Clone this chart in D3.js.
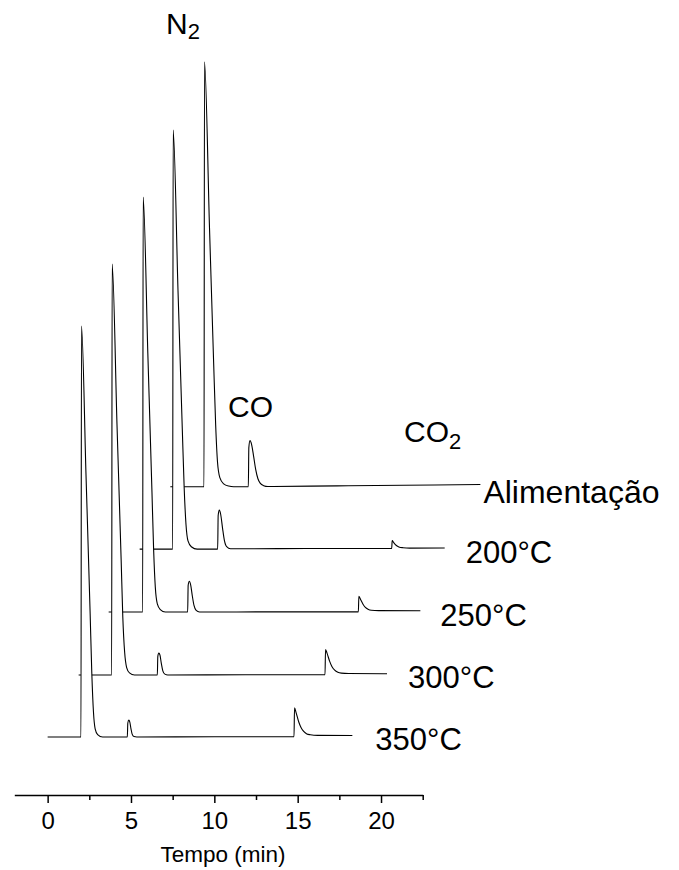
<!DOCTYPE html>
<html>
<head>
<meta charset="utf-8">
<script src="https://cdn.jsdelivr.net/npm/d3@7"></script>
<style>
  body { margin: 0; background: #fff; }
  svg { display: block; font-family: "Liberation Sans", Arial, sans-serif; }
</style>
</head>
<body>
<div id="chart"></div>
<script>
// traces, back to front
const traceNames = ['Alimentação', '200°C', '250°C', '300°C', '350°C'];
const xOffsets = [7.36, 5.52, 3.66, 1.86, 0];      // min
const yOffsets = [60.9, 45.7, 30.4, 15.1, 0];      // signal units

// [time (min), signal]
const alimPts = [
  [0, 0], [2.02, 0], [2.05, 103.4], [2.35, 63], [2.6, 30], [2.72, 15], [2.83, 6], [2.97, 2.2], [3.2, 0.7], [3.5, 0.15], [3.8, 0],
  [4.68, 0], [4.71, 9.5], [4.78, 11.2], [4.88, 10.2], [5.0, 7.3], [5.12, 4.2], [5.25, 2.0], [5.4, 0.8], [5.6, 0.25], [5.85, 0.05],
  [10, 0.2], [14, 0.35], [18.6, 0.55]
];
const t200Pts = [
  [0, 0], [1.98, 0], [2.01, 102], [2.3, 63], [2.56, 29], [2.67, 15], [2.78, 6], [2.9, 2], [3.1, 0.6], [3.45, 0],
  [4.68, 0], [4.71, 8.2], [4.78, 9.5], [4.86, 8.5], [4.97, 5.2], [5.08, 2.2], [5.22, 0.6], [5.45, 0.1],
  [10, 0.15],
  [15.12, 0.2], [15.15, 2.1], [15.24, 1.6], [15.4, 0.9], [15.55, 0.55], [15.8, 0.35], [16.2, 0.25], [18.3, 0.3]
];
const t250Pts = [
  [0, 0], [2.04, 0], [2.07, 101], [2.35, 63], [2.6, 29], [2.7, 15], [2.8, 6], [2.92, 2], [3.1, 0.6], [3.4, 0],
  [4.74, 0], [4.77, 6.5], [4.84, 7.5], [4.92, 6.6], [5.02, 3.9], [5.12, 1.6], [5.25, 0.4], [5.45, 0],
  [10, 0.05],
  [14.98, 0.05], [15.01, 3.85], [15.1, 3.2], [15.26, 1.9], [15.4, 1.15], [15.56, 0.7], [15.76, 0.45], [16.2, 0.35], [18.7, 0.3]
];
const t300Pts = [
  [0, 0], [1.98, 0], [2.01, 100], [2.3, 61], [2.55, 28], [2.65, 14], [2.76, 5.5], [2.88, 1.8], [3.05, 0.5], [3.35, 0],
  [4.72, 0], [4.75, 4.5], [4.81, 5.3], [4.88, 4.8], [4.96, 2.8], [5.05, 1.0], [5.17, 0.2], [5.35, 0],
  [10, 0.05],
  [14.78, 0.05], [14.81, 6.2], [14.9, 5.3], [15.06, 3.3], [15.2, 2.0], [15.36, 1.15], [15.55, 0.65], [15.76, 0.45], [16.2, 0.35], [18.5, 0.3]
];
const t350Pts = [
  [0, 0], [2.0, 0], [2.03, 100], [2.3, 64], [2.55, 30], [2.65, 15.5], [2.75, 6], [2.85, 2], [3.0, 0.6], [3.3, 0],
  [4.78, 0], [4.81, 3.4], [4.87, 4.1], [4.93, 3.6], [5.0, 2.0], [5.07, 0.7], [5.18, 0.1], [5.35, 0],
  [10, 0.05],
  [14.78, 0.05], [14.81, 7.1], [14.9, 6.0], [15.06, 3.7], [15.2, 2.3], [15.36, 1.35], [15.55, 0.75], [15.76, 0.55], [16.2, 0.4], [18.28, 0.35]
];
const traces = [alimPts, t200Pts, t250Pts, t300Pts, t350Pts];

const majorTicks = [0, 5, 10, 15, 20];
const minorTicks = [2.5, 7.5, 12.5, 17.5, 22.5];

const width = 679, height = 870;
const axis_y = 795;

const x = d3.scaleLinear().domain([-2, 22.5]).range([14.3, 422.7]);
const y = d3.scaleLinear().domain([0, 100]).range([737, 326]);

const svg = d3.select('#chart').append('svg')
  .attr('width', width)
  .attr('height', height);

// waterfall: each trace is offset, white-filled so front traces hide the back ones
traces.forEach((pts, i) => {
  const dx = xOffsets[i], dy = yOffsets[i];
  const area = d3.area()
    .x(d => x(d[0] + dx))
    .y0(y(dy))
    .y1(d => y(d[1] + dy))
    .curve(d3.curveMonotoneX);
  const line = d3.line()
    .x(d => x(d[0] + dx))
    .y(d => y(d[1] + dy))
    .curve(d3.curveMonotoneX);

  svg.append('path').datum(pts)
    .attr('d', area)
    .attr('fill', 'white');
  svg.append('path').datum(pts)
    .attr('d', line)
    .attr('fill', 'none')
    .attr('stroke', 'black')
    .attr('stroke-width', 1.1);
});

// x axis
const gx = svg.append('g')
  .attr('transform', `translate(0, ${axis_y})`)
  .call(d3.axisBottom(x).tickValues(majorTicks).tickSize(8).tickSizeOuter(0).tickPadding(9));
gx.select('.domain').attr('stroke-width', 1.5);
gx.selectAll('.tick line').attr('stroke-width', 1.5);
gx.selectAll('.tick text')
  .style('font-size', '24px')
  .style('font-family', '"Liberation Sans", Arial, sans-serif')
  .attr('fill', 'black');

svg.append('g')
  .attr('transform', `translate(0, ${axis_y})`)
  .call(d3.axisBottom(x).tickValues(minorTicks).tickSize(5).tickSizeOuter(0).tickFormat(''))
  .call(g => g.select('.domain').remove())
  .selectAll('.tick line').attr('stroke-width', 1.5);

svg.append('text')
  .text('Tempo (min)')
  .attr('x', 223).attr('y', 862)
  .attr('text-anchor', 'middle')
  .style('font-size', '22.5px');

// trace labels, next to the end of each trace
const labelNudge = [[3, 16], [21, 14], [20, 14], [21, 13], [23, 13]];
traces.forEach((pts, i) => {
  const last = pts[pts.length - 1];
  svg.append('text')
    .text(traceNames[i])
    .attr('x', x(last[0] + xOffsets[i]) + labelNudge[i][0])
    .attr('y', y(yOffsets[i]) + labelNudge[i][1])
    .style('font-size', i === 0 ? '32px' : '31px');
});

// peak labels
const n2 = svg.append('text').attr('x', 166).attr('y', 34).style('font-size', '30px');
n2.append('tspan').text('N');
n2.append('tspan').text('2').attr('dy', 5).style('font-size', '22px');

svg.append('text').text('CO')
  .attr('x', 228).attr('y', 417)
  .style('font-size', '30px');

const co2 = svg.append('text').attr('x', 404).attr('y', 442).style('font-size', '30px');
co2.append('tspan').text('CO');
co2.append('tspan').text('2').attr('dy', 7).style('font-size', '22px');
</script>
</body>
</html>
